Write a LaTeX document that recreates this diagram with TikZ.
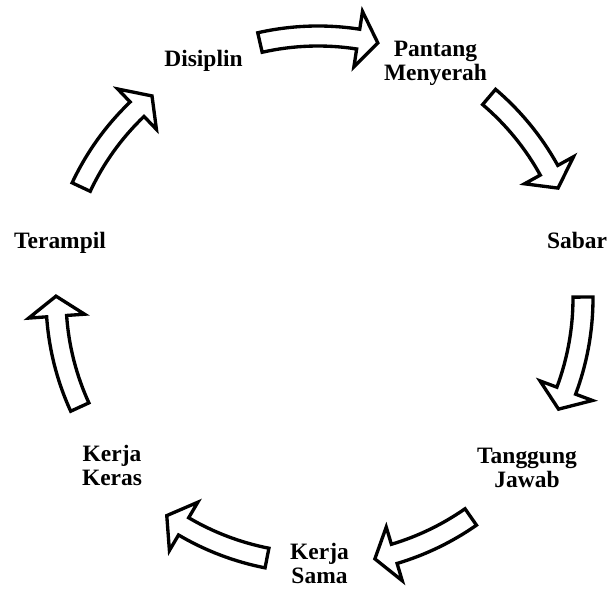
\documentclass[tikz,border=0pt]{standalone}
\usepackage{fontspec}
\setmainfont{Liberation Serif}
\newcommand\carrow[3]{%
  \pgfmathsetmacro\ra{#1}%
  \pgfmathsetmacro\rt{#2}%
  \pgfmathsetmacro\rn{#2+20/#3*57.2958}%
  \pgfmathsetmacro\Ro{(#3+10)*0.75}%
  \pgfmathsetmacro\Ri{(#3-10)*0.75}%
  \pgfmathsetmacro\Ho{(#3+28)*0.75}%
  \pgfmathsetmacro\Hi{(#3-28)*0.75}%
  \pgfmathsetmacro\Rm{#3*0.75}%
  \draw[blockarrow] (\ra:\Ro pt) arc[start angle=\ra, end angle=\rn, radius=\Ro pt]
    -- (\rn:\Ho pt) -- (\rt:\Rm pt) -- (\rn:\Hi pt) -- (\rn:\Ri pt)
    arc[start angle=\rn, end angle=\ra, radius=\Ri pt] -- cycle;
}
\begin{document}
\begin{tikzpicture}[x=0.75pt,y=0.75pt,
  lbl/.style={font=\bfseries\fontsize{17.6}{18.5}\selectfont, align=center, anchor=base, inner sep=0pt},
  blockarrow/.style={draw=black, fill=white, line width=2.5pt, line join=miter}]
\useasboundingbox (0,0) rectangle (614,589);
\node[lbl] (disiplin) at (203.5,522) {Disiplin};
\node[lbl] (pantang) at (435.5,508) {Pantang\\Menyerah};
\node[lbl] (sabar) at (577,340) {Sabar};
\node[lbl] (tanggung) at (527,101) {Tanggung\\Jawab};
\node[lbl] (kerjasama) at (319.5,5) {Kerja\\Sama};
\node[lbl] (kerjakeras) at (112,103) {Kerja\\Keras};
\node[lbl] (terampil) at (60,340) {Terampil};
\begin{scope}[shift={(318,291)}]
  \carrow{102.8}{76.8}{262}
  \carrow{49.6}{24.6}{264}
  \carrow{0.2}{-24.8}{265}
  \carrow{-55.1}{-77.7}{267}
  \carrow{-101.1}{-124.8}{265}
  \carrow{204.6}{179.6}{262}
  \carrow{154.9}{129.4}{261.5}
\end{scope}
\end{tikzpicture}
\end{document}
